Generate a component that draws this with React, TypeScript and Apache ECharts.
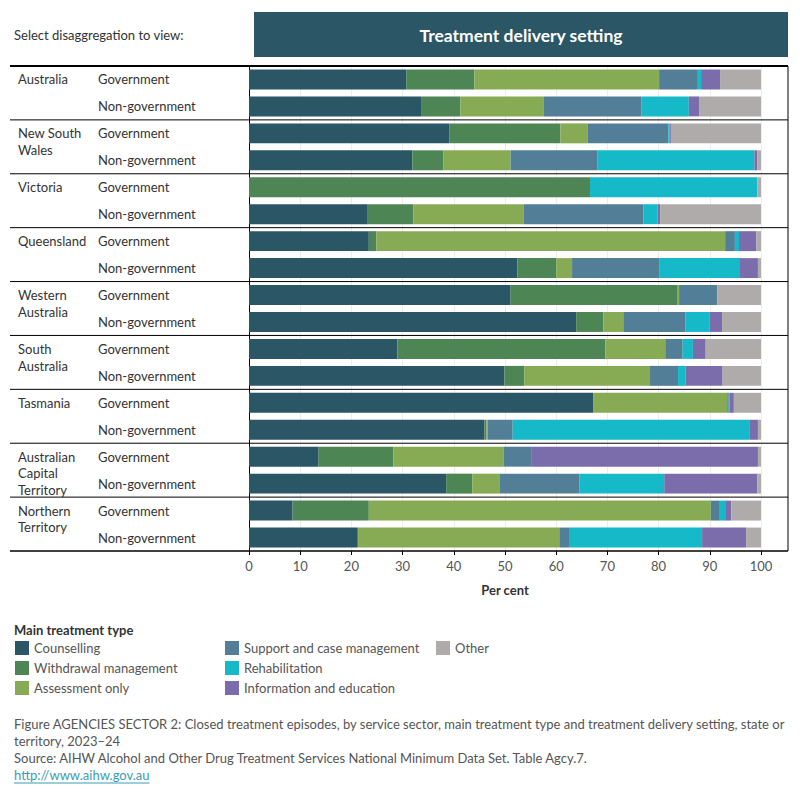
import React, { useEffect, useRef } from "react";
import * as echarts from "echarts";

const states = [
  "Australia",
  "New South\nWales",
  "Victoria",
  "Queensland",
  "Western\nAustralia",
  "South\nAustralia",
  "Tasmania",
  "Australian\nCapital\nTerritory",
  "Northern\nTerritory",
];
const sectors = ["Government", "Non-government"];

const treatmentTypes = [
  "Counselling",
  "Withdrawal management",
  "Assessment only",
  "Support and case management",
  "Rehabilitation",
  "Information and education",
  "Other",
];

// Row order: for each state, Government then Non-government
const counselling = [30.7, 33.6, 39.1, 31.9, 0, 23.2, 23.4, 52.4, 51.1, 63.9, 29.0, 49.9, 67.2, 46.0, 13.6, 38.5, 8.5, 21.1];
const withdrawal = [13.3, 7.7, 21.7, 6.1, 66.6, 8.9, 1.5, 7.6, 32.5, 5.3, 40.6, 3.9, 0, 0.4, 14.6, 5.1, 14.9, 0.2];
const assessment = [36.1, 16.2, 5.3, 13.1, 0, 21.5, 68.1, 3.1, 0.4, 3.9, 11.7, 24.4, 26.2, 0.2, 21.5, 5.3, 66.8, 39.3];
const support = [7.4, 19.1, 15.8, 16.9, 0, 23.4, 1.9, 17.0, 7.4, 12.1, 3.4, 5.6, 0.3, 4.9, 5.4, 15.6, 1.6, 1.9];
const rehabilitation = [0.8, 9.3, 0.2, 30.7, 32.7, 2.8, 0.8, 15.8, 0, 4.7, 2.0, 1.5, 0.2, 46.2, 0, 16.6, 1.2, 26.0];
const information = [3.7, 2.0, 0.3, 0.6, 0, 0.5, 3.4, 3.5, 0.1, 2.5, 2.5, 7.2, 0.8, 1.7, 44.3, 18.2, 1.2, 8.6];
const other = [8.0, 12.1, 17.6, 0.7, 0.7, 19.7, 0.9, 0.6, 8.5, 7.6, 10.8, 7.5, 5.3, 0.6, 0.6, 0.7, 5.8, 2.9];

const seriesValues = [counselling, withdrawal, assessment, support, rehabilitation, information, other];
const colors = ["#2a5666", "#4d8654", "#87ab55", "#527f97", "#15b9c7", "#7b6cab", "#afabab"];

const xTicks = { min: 0, max: 100, interval: 10 };

const FONT = "Lato, 'Open Sans', sans-serif";
const FS = 13;
const caption1 =
  "Figure AGENCIES SECTOR 2: Closed treatment episodes, by service sector, main treatment type and treatment delivery setting, state or";
const caption2 = "territory, 2023–24";
const caption3 =
  "Source: AIHW Alcohol and Other Drug Treatment Services National Minimum Data Set. Table Agcy.7.";
const captionLink = "http://www.aihw.gov.au";

export default function App() {
  const ref = useRef<HTMLDivElement>(null);

  useEffect(() => {
    if (!ref.current) return;
    const chart = echarts.init(ref.current, undefined, { renderer: "svg" });

    const rowKeys: string[] = [];
    states.forEach((s, i) => sectors.forEach((sec) => rowKeys.push(i + "|" + sec)));

    const legendBase = {
      orient: "vertical" as const,
      icon: "rect",
      itemWidth: 14,
      itemHeight: 14,
      itemGap: 6,
      padding: 0,
      selectedMode: false,
      textStyle: { color: "#555", fontSize: FS, fontFamily: FONT },
      top: 641,
    };

    chart.setOption({
      animation: false,
      textStyle: { fontFamily: FONT },
      grid: { left: 249, right: 39, top: 66, bottom: 249, containLabel: false },
      xAxis: {
        type: "value",
        min: xTicks.min,
        max: xTicks.max,
        interval: xTicks.interval,
        axisLine: { show: false },
        axisTick: { show: true, length: 4, lineStyle: { color: "#000" } },
        splitLine: { show: true, lineStyle: { color: "#ededed", width: 1 } },
        axisLabel: { color: "#555", fontSize: FS, margin: 8, fontFamily: FONT },
        name: "Per cent",
        nameLocation: "middle",
        nameGap: 32,
        nameTextStyle: { color: "#333", fontSize: FS, fontWeight: "bold", fontFamily: FONT },
      },
      yAxis: {
        type: "category",
        data: rowKeys,
        inverse: true,
        axisLine: { show: true, lineStyle: { color: "#000", width: 1 } },
        axisTick: { show: false },
        axisLabel: {
          formatter: (v: string) => v.split("|")[1],
          align: "left",
          margin: 151,
          color: "#333",
          fontSize: FS,
          fontFamily: FONT,
        },
      },
      legend: [
        { ...legendBase, left: 15, data: treatmentTypes.slice(0, 3) },
        { ...legendBase, left: 225, data: treatmentTypes.slice(3, 6) },
        { ...legendBase, left: 436, data: treatmentTypes.slice(6) },
      ],
      series: treatmentTypes.map((name, i) => ({
        name,
        type: "bar",
        stack: "total",
        barWidth: "74%",
        silent: true,
        itemStyle: { color: colors[i] },
        emphasis: { disabled: true },
        data: seriesValues[i],
      })),
    });

    // Table decorations computed from the axis scales
    const c0 = chart.convertToPixel({ yAxisIndex: 0 }, rowKeys[0]) as number;
    const c1 = chart.convertToPixel({ yAxisIndex: 0 }, rowKeys[1]) as number;
    const band = c1 - c0;
    const centerOf = (i: number) => chart.convertToPixel({ yAxisIndex: 0 }, rowKeys[i]) as number;
    const xLeft = 10;
    const xRight = 788;
    const graphics: any[] = [];
    const topY = centerOf(0) - band / 2;
    const bottomY = centerOf(rowKeys.length - 1) + band / 2;

    states.forEach((s, g) => {
      const y = centerOf(2 * g) - band / 2;
      graphics.push({
        type: "line",
        silent: true,
        shape: { x1: xLeft, y1: y, x2: xRight, y2: y },
        style: { stroke: "#000", lineWidth: g === 0 ? 2 : 1 },
      });
      graphics.push({
        type: "text",
        silent: true,
        x: 18,
        y: centerOf(2 * g) - 8.3,
        style: {
          text: s,
          fill: "#333",
          fontSize: FS,
          fontFamily: FONT,
          lineHeight: 16.6,
          verticalAlign: "top",
          align: "left",
        },
      });
    });
    graphics.push({
      type: "line",
      silent: true,
      shape: { x1: xLeft, y1: bottomY, x2: xRight, y2: bottomY },
      style: { stroke: "#000", lineWidth: 1.5 },
    });
    graphics.push({
      type: "line",
      silent: true,
      shape: { x1: xRight, y1: topY, x2: xRight, y2: bottomY },
      style: { stroke: "#000", lineWidth: 1 },
    });

    // Header
    graphics.push({
      type: "text",
      silent: true,
      x: 14,
      y: 35,
      style: { text: "Select disaggregation to view:", fill: "#333", fontSize: 13, fontFamily: FONT, verticalAlign: "middle" },
    });
    graphics.push({
      type: "rect",
      silent: true,
      shape: { x: 254, y: 12, width: 534, height: 45 },
      style: { fill: "#2a5666" },
    });
    graphics.push({
      type: "text",
      silent: true,
      x: 521,
      y: 35,
      style: {
        text: "Treatment delivery setting",
        fill: "#fff",
        fontSize: 17.5,
        fontWeight: "bold",
        fontFamily: FONT,
        align: "center",
        verticalAlign: "middle",
      },
    });

    // Legend title
    graphics.push({
      type: "text",
      silent: true,
      x: 14,
      y: 630,
      style: { text: "Main treatment type", fill: "#333", fontSize: FS, fontWeight: "bold", fontFamily: FONT, verticalAlign: "middle" },
    });

    // Caption
    const capStyle = { fill: "#555", fontSize: FS, fontFamily: FONT, verticalAlign: "middle" };
    graphics.push({ type: "text", silent: true, x: 14, y: 724, style: { ...capStyle, text: caption1 } });
    graphics.push({ type: "text", silent: true, x: 14, y: 741, style: { ...capStyle, text: caption2 } });
    graphics.push({ type: "text", silent: true, x: 14, y: 758, style: { ...capStyle, text: caption3 } });
    graphics.push({
      type: "text",
      silent: true,
      x: 14,
      y: 775,
      style: { ...capStyle, fill: "#3b9cb7", text: captionLink },
    });
    const fmt: any = (echarts as any).format;
    const linkWidth = fmt && fmt.getTextRect ? fmt.getTextRect(captionLink, FS + "px " + FONT).width : 135;
    graphics.push({
      type: "line",
      silent: true,
      shape: { x1: 14, y1: 783, x2: 14 + (linkWidth || 135), y2: 783 },
      style: { stroke: "#3b9cb7", lineWidth: 1 },
    });

    chart.setOption({ graphic: graphics });

    return () => chart.dispose();
  }, []);

  return (
    <div
      ref={ref}
      style={{ position: "fixed", left: 0, top: 0, width: 800, height: 800, background: "#fff" }}
    />
  );
}
